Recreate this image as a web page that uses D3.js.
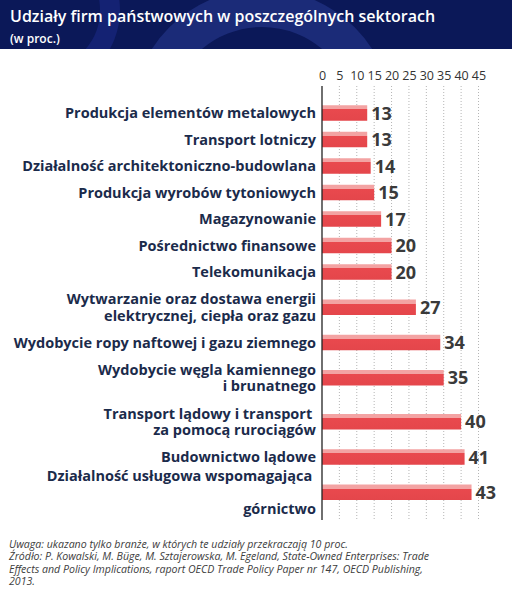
<!DOCTYPE html>
<html>
<head>
<meta charset="utf-8">
<script src="https://cdn.jsdelivr.net/npm/d3@7"></script>
<style>
  body { margin: 0; background: #fff; }
  svg { display: block; font-family: "Open Sans", sans-serif; }
</style>
</head>
<body>
<div id="canvas"></div>
<script>
const sectors = [
  ["Produkcja elementów metalowych"],
  ["Transport lotniczy"],
  ["Działalność architektoniczno-budowlana"],
  ["Produkcja wyrobów tytoniowych"],
  ["Magazynowanie"],
  ["Pośrednictwo finansowe"],
  ["Telekomunikacja"],
  ["Wytwarzanie oraz dostawa energii", "elektrycznej, ciepła oraz gazu"],
  ["Wydobycie ropy naftowej i gazu ziemnego"],
  ["Wydobycie węgla kamiennego", "i brunatnego"],
  ["Transport lądowy i transport ", "za pomocą rurociągów"],
  ["Budownictwo lądowe"],
  ["Działalność usługowa wspomagająca ", "", "górnictwo"]
];
const shares = [13, 13, 14, 15, 17, 20, 20, 27, 34, 35, 40, 41, 43];
const xTicks = [0, 5, 10, 15, 20, 25, 30, 35, 40, 45];
const titleText = "Udziały firm państwowych w poszczególnych sektorach";
const subtitleText = "(w proc.)";
const notes = [
  "Uwaga: ukazano tylko branże, w których te udziały przekraczają 10 proc.",
  "Źródło: P. Kowalski, M. Büge, M. Sztajerowska, M. Egeland, State-Owned Enterprises: Trade",
  "Effects and Policy Implications, raport OECD Trade Policy Paper nr 147, OECD Publishing,",
  "2013."
];

const w = 512, h = 600;
const plotLeft = 322, plotTop = 86, plotBottom = 520;
const rowSingle = 26.5, rowDouble = 44;

const svg = d3.select("#canvas").append("svg").attr("width", w).attr("height", h);

// header
const defs = svg.append("defs");
defs.append("clipPath").attr("id", "hclip").append("rect").attr("width", w).attr("height", 49);
const grad = defs.append("linearGradient").attr("id", "barGrad")
  .attr("x1", 0).attr("y1", 0).attr("x2", 0).attr("y2", 1);
grad.append("stop").attr("offset", "0").attr("stop-color", "#f3a3a3");
grad.append("stop").attr("offset", "0.27").attr("stop-color", "#f3a3a3");
grad.append("stop").attr("offset", "0.27").attr("stop-color", "#e9494e");
grad.append("stop").attr("offset", "1").attr("stop-color", "#e4464b");

const header = svg.append("g").attr("clip-path", "url(#hclip)");
header.append("rect").attr("width", w).attr("height", 49).attr("fill", "#0b1858");
header.append("circle").attr("cx", 262).attr("cy", 120).attr("r", 112)
  .attr("fill", "none").attr("stroke", "#1b2b78").attr("stroke-width", 38);
header.append("circle").attr("cx", 40).attr("cy", 10).attr("r", 70)
  .attr("fill", "none").attr("stroke", "#142273").attr("stroke-width", 20);

svg.append("text").attr("x", 10).attr("y", 22)
  .attr("fill", "#fff").attr("font-size", 16).attr("font-weight", 600)
  .text(titleText);
svg.append("text").attr("x", 10).attr("y", 43)
  .attr("fill", "#fff").attr("font-size", 12).attr("font-weight", 600)
  .text(subtitleText);

// row layout: two-line labels get taller rows
const rowH = sectors.map(l => l.length > 1 ? rowDouble : rowSingle);
const rowStart = [];
rowH.reduce((acc, v, i) => { rowStart[i] = acc; return acc + v; }, 0);
const total = d3.sum(rowH);
const y = d3.scaleLinear().domain([0, total]).range([99.75, 99.75 + total]);
const x = d3.scaleLinear().domain([0, 45]).range([plotLeft, plotLeft + 156.5]);

const data = shares.map((v, i) => ({
  value: v, lines: sectors[i], cy: y(rowStart[i] + rowH[i] / 2)
}));

// grid
svg.append("g").selectAll("line").data(xTicks.slice(1)).enter().append("line")
  .attr("x1", d => x(d)).attr("x2", d => x(d))
  .attr("y1", plotTop).attr("y2", plotBottom)
  .attr("stroke", "#b5b5b5").attr("stroke-width", 1).attr("stroke-dasharray", "1,2");

// top axis labels
const xAxis = d3.axisTop(x).tickValues(xTicks).tickSize(0).tickPadding(0);
const gx = svg.append("g").attr("transform", "translate(0,80)").call(xAxis);
gx.select(".domain").remove();
gx.selectAll("text").attr("font-size", 12.5).attr("fill", "#333")
  .attr("font-family", "Open Sans, sans-serif").attr("dy", 0);

// bars
const barH = 15.5;
svg.append("g").selectAll("rect").data(data).enter().append("rect")
  .attr("x", x(0)).attr("y", d => d.cy - barH / 2)
  .attr("width", d => x(d.value) - x(0)).attr("height", barH)
  .attr("fill", "url(#barGrad)");

// baseline
svg.append("line").attr("x1", x(0)).attr("x2", x(0))
  .attr("y1", plotTop).attr("y2", plotBottom)
  .attr("stroke", "#222").attr("stroke-width", 1.3);

// value labels
svg.append("g").selectAll("text").data(data).enter().append("text")
  .attr("x", d => x(d.value) + 4).attr("y", d => d.cy + 6.5)
  .attr("font-size", 18).attr("font-weight", 700).attr("fill", "#3a3a3a")
  .text(d => d.value);

// category labels
const labelSize = 14.5, lineGap = 16.5;
const lab = svg.append("g").selectAll("text").data(data).enter().append("text")
  .attr("text-anchor", "end").attr("font-size", labelSize).attr("font-weight", 700)
  .attr("fill", "#1b2b4b");
lab.each(function(d) {
  const n = d.lines.length;
  d3.select(this).selectAll("tspan").data(d.lines).enter().append("tspan")
    .attr("x", 316)
    .attr("y", (t, i) => d.cy + 5 + (i - (n - 1) / 2) * lineGap)
    .text(t => t);
});

// footnotes
svg.append("g").selectAll("text").data(notes).enter().append("text")
  .attr("x", 9).attr("y", (d, i) => 548 + i * 12.4)
  .attr("font-size", 10.6).attr("font-style", "italic").attr("fill", "#3d3d3d")
  .text(d => d);
</script>
</body>
</html>
